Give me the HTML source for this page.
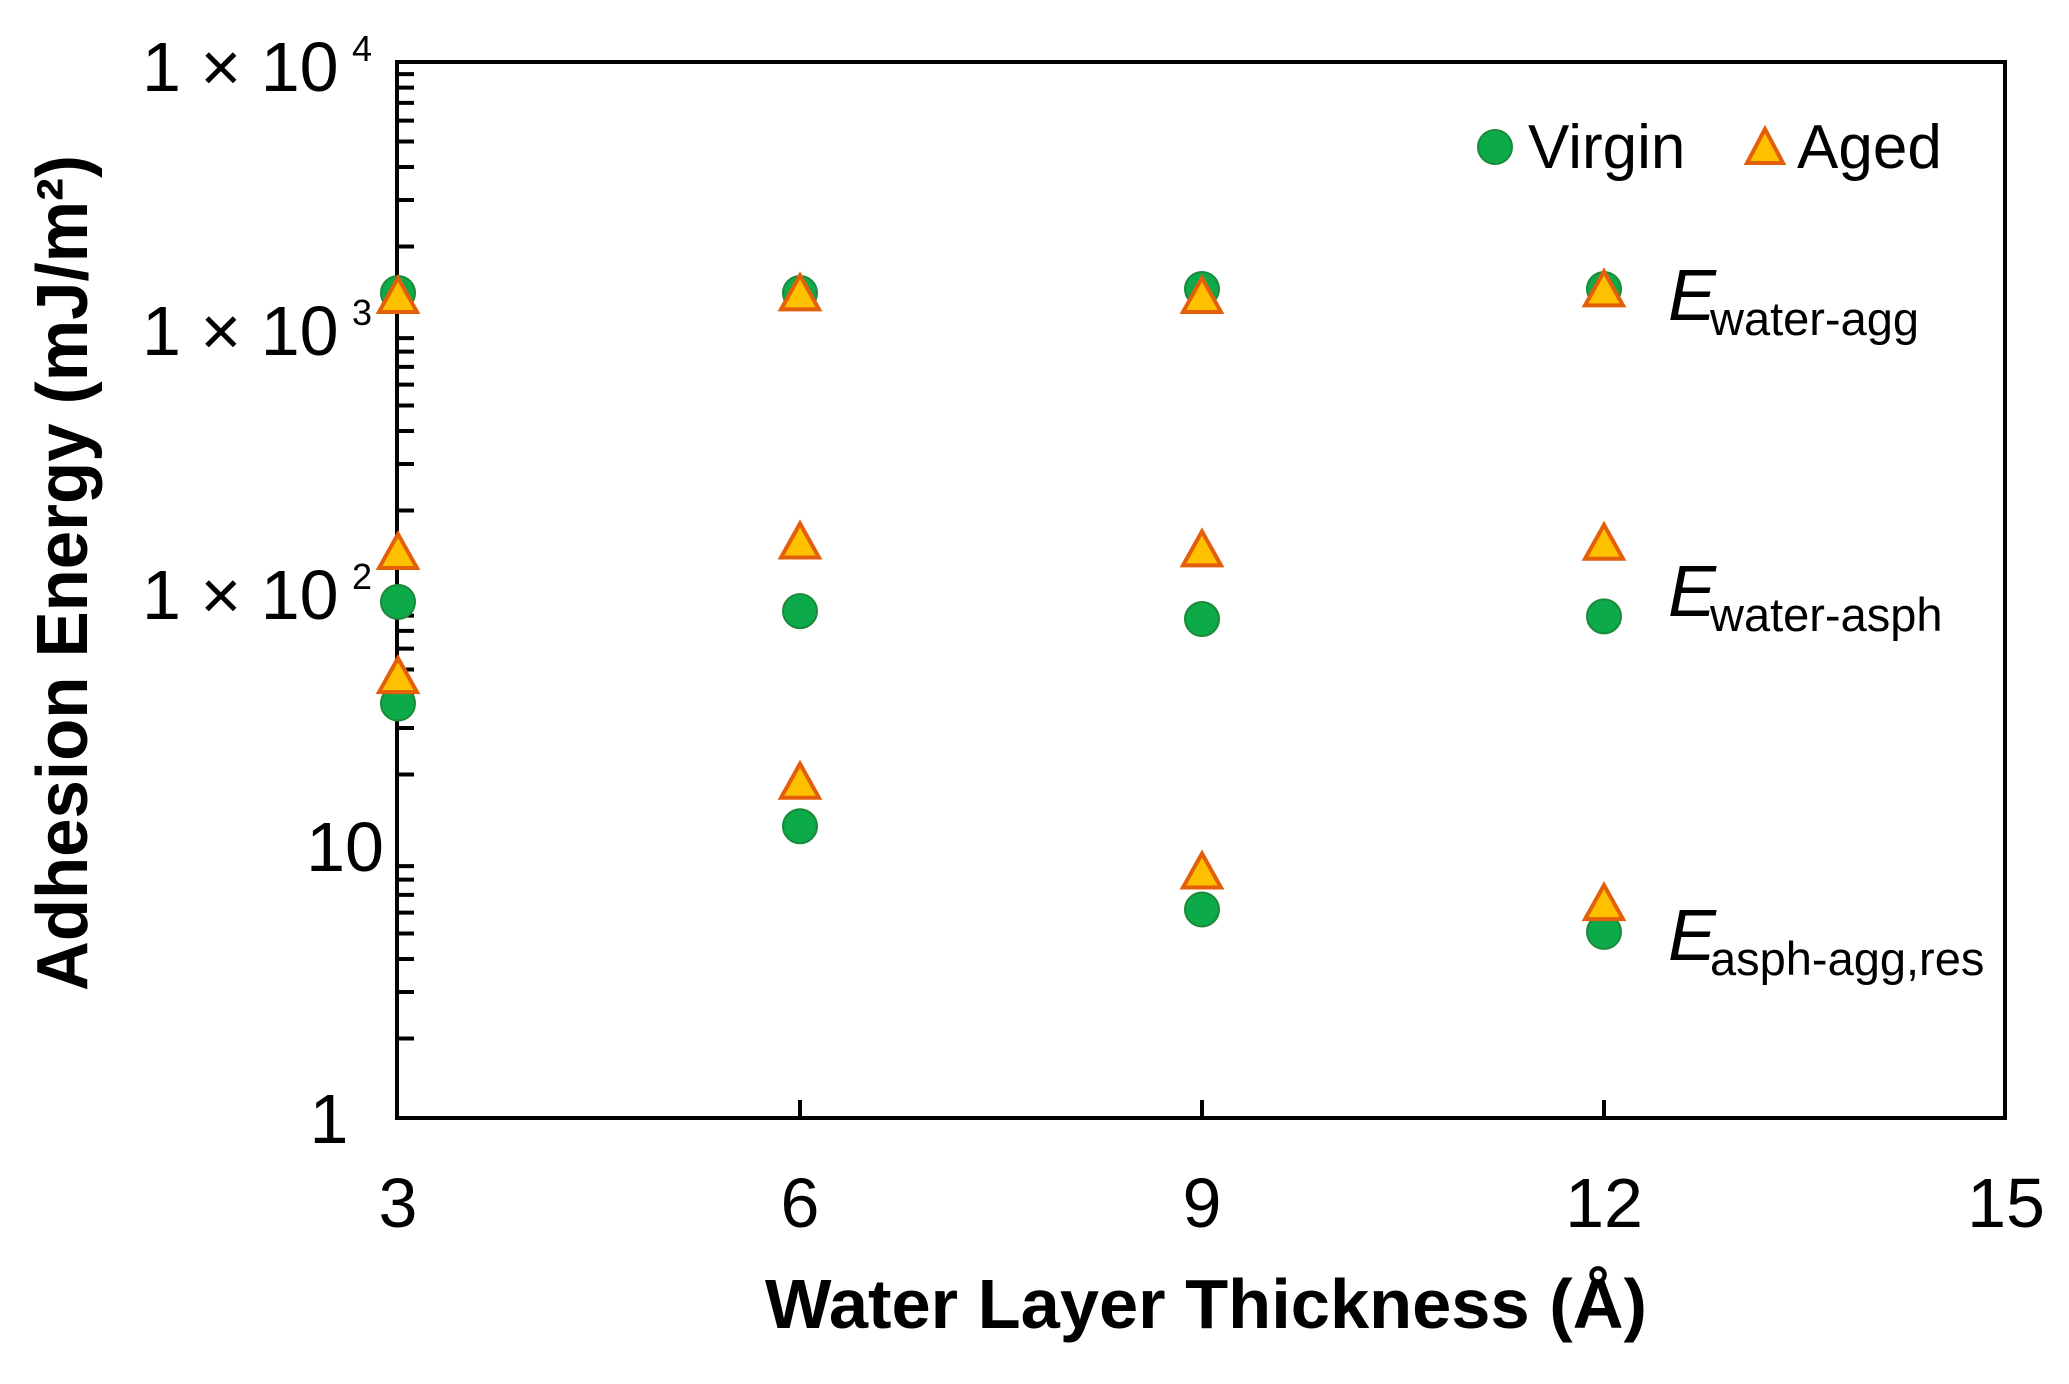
<!DOCTYPE html>
<html><head><meta charset="utf-8"><style>html,body{margin:0;padding:0;background:#fff}svg{display:block}</style></head>
<body>
<svg width="2069" height="1384" viewBox="0 0 2069 1384" xmlns="http://www.w3.org/2000/svg" font-family="Liberation Sans, Arial, sans-serif">
<rect width="2069" height="1384" fill="#fff"/>
<g stroke="#000" stroke-width="4" fill="none">
<rect x="397" y="62" width="1608" height="1056"/>
</g>
<g stroke="#000" stroke-width="4" id="tk"></g>
<g font-size="70" fill="#000">
<text x="142" y="91">1 × 10</text><text x="352" y="61" font-size="36">4</text>
<text x="142" y="355">1 × 10</text><text x="352" y="325" font-size="36">3</text>
<text x="142" y="619">1 × 10</text><text x="352" y="589" font-size="36">2</text>
<text x="345" y="871" text-anchor="middle">10</text>
<text x="329" y="1143" text-anchor="middle">1</text>
<text x="398" y="1227" text-anchor="middle">3</text>
<text x="800" y="1227" text-anchor="middle">6</text>
<text x="1202" y="1227" text-anchor="middle">9</text>
<text x="1604" y="1227" text-anchor="middle">12</text>
<text x="2006" y="1227" text-anchor="middle">15</text>
</g>
<text x="765" y="1328" font-size="70" font-weight="bold" textLength="882" lengthAdjust="spacingAndGlyphs">Water Layer Thickness (Å)</text>
<text transform="translate(87,991) rotate(-90)" font-size="72" font-weight="bold" textLength="836" lengthAdjust="spacingAndGlyphs">Adhesion Energy (mJ/m²)</text>
<g font-size="62">
<circle cx="1495" cy="147" r="17" fill="#0daa4a" stroke="#1a8a3a" stroke-width="2"/>
<text x="1528" y="168">Virgin</text>
<polygon points="1765,129 1783,163 1747,163" fill="#ffc000" stroke="#e35f0a" stroke-width="4"/>
<text x="1797" y="168">Aged</text>
</g>
<g>
<text x="1668" y="320" font-size="72" font-style="italic">E</text><text x="1710" y="335" font-size="47">water-agg</text>
<text x="1668" y="616" font-size="72" font-style="italic">E</text><text x="1710" y="631" font-size="47">water-asph</text>
<text x="1668" y="960" font-size="72" font-style="italic">E</text><text x="1710" y="975" font-size="47">asph-agg,res</text>
</g>
<g id="pts"></g>
<script>
var ns="http://www.w3.org/2000/svg";
var tk=document.getElementById("tk");
function ln(x1,y1,x2,y2){var l=document.createElementNS(ns,"line");l.setAttribute("x1",x1);l.setAttribute("y1",y1);l.setAttribute("x2",x2);l.setAttribute("y2",y2);tk.appendChild(l);}
for(var d=0;d<4;d++){for(var k=2;k<=9;k++){var y=1118-264*(d+Math.log10(k));ln(397,y,414,y);}}
[800,1202,1604].forEach(function(x){ln(x,1118,x,1100);});
var pts=document.getElementById("pts");
function Y(v){return 1118-264*v;}
var X=[398,800,1202,1604];
var vir=[[3.125,1.955,1.57],[3.125,1.92,1.105],[3.14,1.89,0.79],[3.14,1.90,0.705]];
var aged=[[3.11,2.14,1.67],[3.12,2.18,1.27],[3.11,2.15,0.93],[3.135,2.175,0.81]];
for(var i=0;i<4;i++){
 vir[i].forEach(function(v){var c=document.createElementNS(ns,"circle");c.setAttribute("cx",X[i]);c.setAttribute("cy",Y(v));c.setAttribute("r",17);c.setAttribute("fill","#0daa4a");c.setAttribute("stroke","#1a8a3a");c.setAttribute("stroke-width",2);pts.appendChild(c);});
 aged[i].forEach(function(v){var y=Y(v),x=X[i];var p=document.createElementNS(ns,"polygon");p.setAttribute("points",x+","+(y-19)+" "+(x+19)+","+(y+15)+" "+(x-19)+","+(y+15));p.setAttribute("fill","#ffc000");p.setAttribute("stroke","#e35f0a");p.setAttribute("stroke-width",4);pts.appendChild(p);});
}
</script>
</svg>
</body></html>
